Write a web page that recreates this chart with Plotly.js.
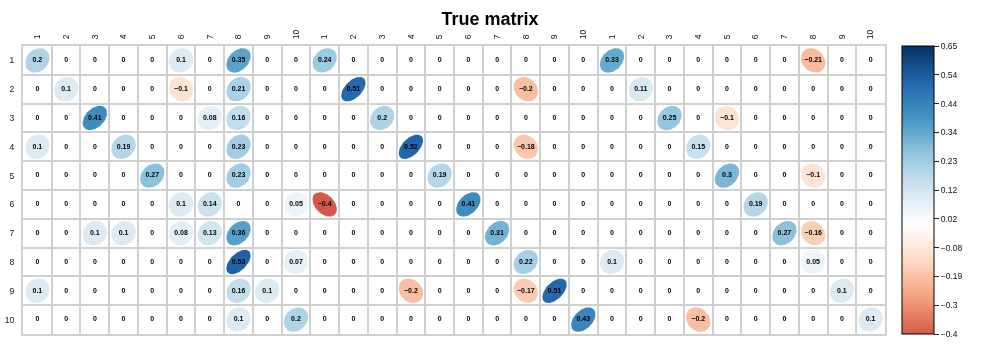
<!DOCTYPE html>
<html><head><meta charset="utf-8">
<script src="https://cdn.plot.ly/plotly-3.0.1.min.js"></script>
<style>html,body{margin:0;padding:0;background:#fff;}#chart{width:994px;height:345px;}
#chart .main-svg{will-change:transform;}
#chart text{-webkit-font-smoothing:antialiased;}</style>
</head><body><div id="chart"></div>
<script>
// ---- data ----
const rowLabels = ['1','2','3','4','5','6','7','8','9','10'];
const colLabels = ['1','2','3','4','5','6','7','8','9','10',
                   '1','2','3','4','5','6','7','8','9','10',
                   '1','2','3','4','5','6','7','8','9','10'];
const block1 = [
  [0.2,0,0,0,0,0.1,0,0.35,0,0],
  [0,0.1,0,0,0,-0.1,0,0.21,0,0],
  [0,0,0.41,0,0,0,0.08,0.16,0,0],
  [0.1,0,0,0.19,0,0,0,0.23,0,0],
  [0,0,0,0,0.27,0,0,0.23,0,0],
  [0,0,0,0,0,0.1,0.14,0,0,0.05],
  [0,0,0.1,0.1,0,0.08,0.13,0.36,0,0],
  [0,0,0,0,0,0,0,0.53,0,0.07],
  [0.1,0,0,0,0,0,0,0.16,0.1,0],
  [0,0,0,0,0,0,0,0.1,0,0.2]
];
const block2 = [
  [0.24,0,0,0,0,0,0,0,0,0],
  [0,0.51,0,0,0,0,0,-0.2,0,0],
  [0,0,0.2,0,0,0,0,0,0,0],
  [0,0,0,0.52,0,0,0,-0.18,0,0],
  [0,0,0,0,0.19,0,0,0,0,0],
  [-0.4,0,0,0,0,0.41,0,0,0,0],
  [0,0,0,0,0,0,0.31,0,0,0],
  [0,0,0,0,0,0,0,0.22,0,0],
  [0,0,0,-0.2,0,0,0,-0.17,0.51,0],
  [0,0,0,0,0,0,0,0,0,0.43]
];
const block3 = [
  [0.33,0,0,0,0,0,0,-0.21,0,0],
  [0,0.11,0,0,0,0,0,0,0,0],
  [0,0,0.25,0,-0.1,0,0,0,0,0],
  [0,0,0,0.15,0,0,0,0,0,0],
  [0,0,0,0,0.3,0,0,-0.1,0,0],
  [0,0,0,0,0,0.19,0,0,0,0],
  [0,0,0,0,0,0,0.27,-0.16,0,0],
  [0.1,0,0,0,0,0,0,0.05,0,0],
  [0,0,0,0,0,0,0,0,0.1,0],
  [0,0,0,-0.2,0,0,0,0,0,0.1]
];
const colorLimits = [-0.4, 0.65];
const colorbarTickText = ['-0.4','-0.3','-0.19','-0.08','0.02','0.12','0.23','0.34','0.44','0.54','0.65'];
const rdbuColors = ['#67001F','#B2182B','#D6604D','#F4A582','#FDDBC7','#FFFFFF','#D1E5F0','#92C5DE','#4393C3','#2166AC','#053061'];
const titleText = 'True matrix';

// ---- build ----
const matrix = rowLabels.map((_, i) => block1[i].concat(block2[i], block3[i]));
const cmin = colorLimits[0], cmax = colorLimits[1];
const symLim = Math.max(Math.abs(cmin), Math.abs(cmax));
const FONT = 'Liberation Sans, Arial, Helvetica, sans-serif';

function hexToRgb(h){return [parseInt(h.slice(1,3),16),parseInt(h.slice(3,5),16),parseInt(h.slice(5,7),16)];}
function rdbuAt(v){ // RdBu over symmetric [-symLim, symLim]
  let p = (v + symLim) / (2*symLim) * (rdbuColors.length - 1);
  p = Math.max(0, Math.min(rdbuColors.length - 1, p));
  const i = Math.min(Math.floor(p), rdbuColors.length - 2), f = p - i;
  const a = hexToRgb(rdbuColors[i]), b = hexToRgb(rdbuColors[i+1]);
  const c = a.map((x, k) => Math.round(x + (b[k]-x)*f));
  return 'rgb(' + c.join(',') + ')';
}
const colorscale = [];
const nStops = 40;
for (let s = 0; s <= nStops; s++) {
  const v = cmin + (cmax - cmin) * s / nStops;
  colorscale.push([s / nStops, rdbuAt(v)]);
}

const traces = [];
const textX = [], textY = [], textT = [];
const NPTS = 99;
for (let r = 0; r < matrix.length; r++) {
  for (let c = 0; c < matrix[r].length; c++) {
    const rho = matrix[r][c];
    const cx = c + 1, cy = r + 1;
    const d = Math.acos(rho) / 2;
    const xs = [], ys = [];
    for (let k = 0; k < NPTS; k++) {
      const t = 2 * Math.PI * k / (NPTS - 1);
      xs.push(cx + 0.85 * Math.cos(t + d) / 2);
      ys.push(cy - 0.85 * Math.cos(t - d) / 2);
    }
    traces.push({type: 'scatter', x: xs, y: ys, mode: 'lines', fill: 'toself', fillcolor: rdbuAt(rho),
      line: {width: 0, color: 'rgba(0,0,0,0)'}, hoverinfo: 'skip', showlegend: false});
    textX.push(cx); textY.push(cy);
    textT.push('<b>' + String(rho).replace('-', '\u2212') + '</b>');
  }
}
traces.push({type: 'scatter', x: textX, y: textY, text: textT, mode: 'text', hoverinfo: 'skip', showlegend: false,
  textposition: 'middle center',
  textfont: {family: FONT, size: 7, color: '#000000'}});

const cbVals = colorbarTickText.map((_, k) => cmin + (cmax - cmin) * k / (colorbarTickText.length - 1));
traces.push({type: 'scatter', x: [1], y: [1], mode: 'markers', hoverinfo: 'skip', showlegend: false,
  marker: {size: 0.1, opacity: 0, color: [0], cmin: cmin, cmax: cmax, colorscale: colorscale, showscale: true,
    colorbar: {x: 1.0197, xanchor: 'left', xpad: 0, y: 0.5, yanchor: 'middle', ypad: 0,
      len: 1, lenmode: 'fraction', thickness: 32, outlinewidth: 1, outlinecolor: '#000',
      ticks: 'outside', ticklen: 5, tickcolor: '#222', tickwidth: 1,
      tickvals: cbVals, ticktext: colorbarTickText.map(s => s.replace('-', '\u2212')),
      tickfont: {family: FONT, size: 8.5, color: '#111'}}}});

const gridCol = '#d0d0d0';
const layout = {
  width: 994, height: 345,
  margin: {l: 23, r: 109, t: 46, b: 11},
  paper_bgcolor: '#fff', plot_bgcolor: '#fff',
  title: {text: '<b>' + titleText + '</b>', x: 0.493, xref: 'container', xanchor: 'center',
    y: 0.945, yref: 'container', yanchor: 'middle',
    font: {family: FONT, size: 18, color: '#000'}},
  xaxis: {range: [0.5, 30.5], side: 'top', tickmode: 'array', tickvals: colLabels.map((_, i) => i + 1),
    ticktext: colLabels, tickangle: -90, ticks: '', showgrid: false, zeroline: false,
    ticklabelstandoff: 3,
    tickfont: {family: FONT, size: 8.5, color: '#111'},
    showline: true, mirror: true, linecolor: gridCol, linewidth: 2,
    minor: {tickmode: 'linear', tick0: 0.5, dtick: 1, showgrid: true, gridcolor: gridCol, gridwidth: 2, ticks: ''},
    fixedrange: true},
  yaxis: {range: [10.5, 0.5], tickmode: 'array', tickvals: rowLabels.map((_, i) => i + 1),
    ticktext: rowLabels, ticks: '', showgrid: false, zeroline: false, ticklabelstandoff: 5,
    tickfont: {family: FONT, size: 8.5, color: '#111'},
    showline: true, mirror: true, linecolor: gridCol, linewidth: 2,
    minor: {tickmode: 'linear', tick0: 0.5, dtick: 1, showgrid: true, gridcolor: gridCol, gridwidth: 2, ticks: ''},
    fixedrange: true},
  showlegend: false
};
Plotly.newPlot('chart', traces, layout, {staticPlot: true, displayModeBar: false});
</script></body></html>
